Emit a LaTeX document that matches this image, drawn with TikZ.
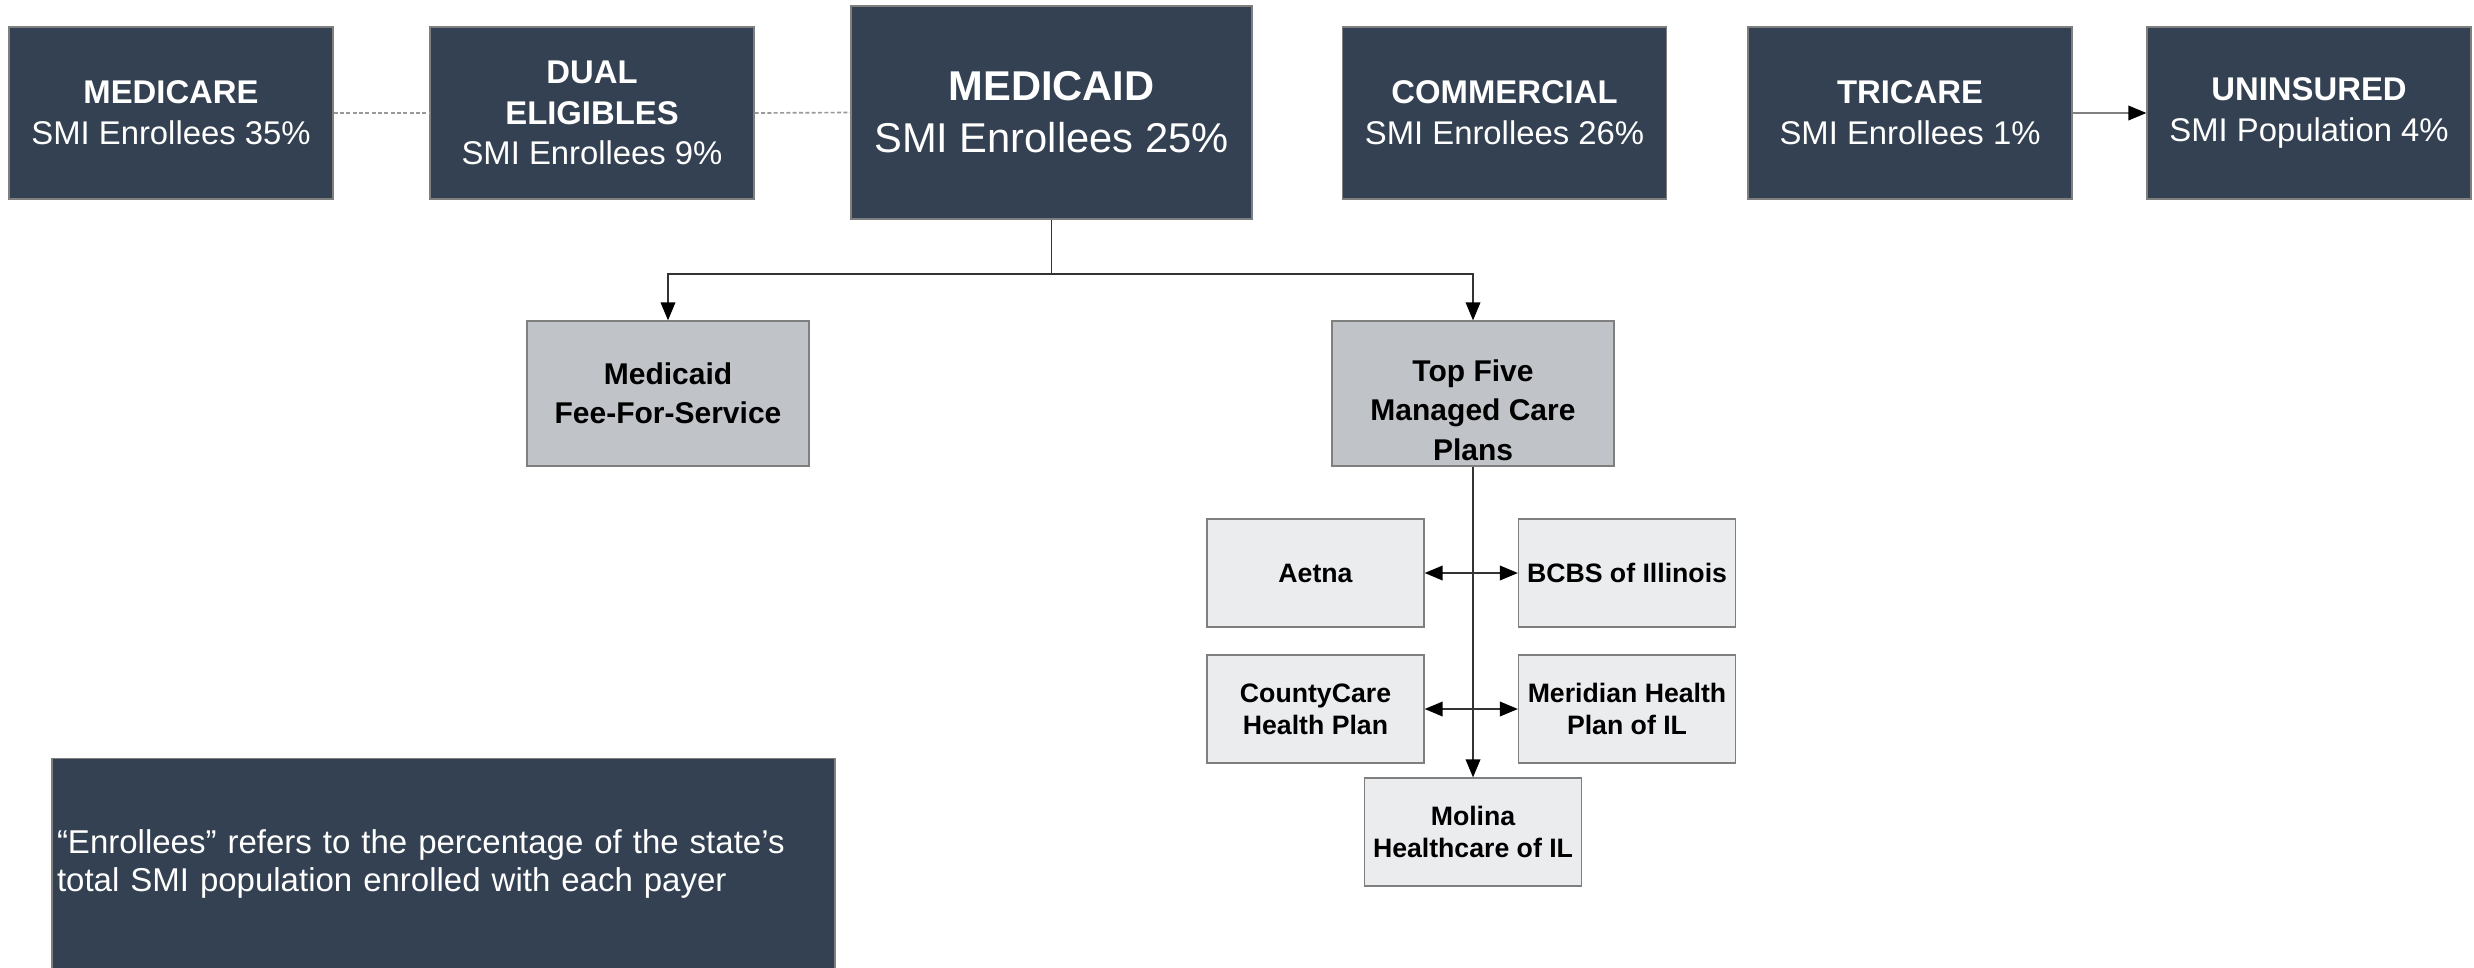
\documentclass[tikz,border=0pt]{standalone}
\usepackage{fontspec}
\setmainfont{Liberation Sans}
\usetikzlibrary{arrows.meta,positioning}
\definecolor{navy}{HTML}{334152}
\definecolor{midgray}{HTML}{C0C4C8}
\definecolor{lightgray}{HTML}{EBECEE}
\definecolor{edgegray}{HTML}{7F7F7F}
\tikzset{
  topbox/.style={draw=edgegray, line width=0.4pt, fill=navy, text=white, align=center,
    minimum width=97.2pt, minimum height=51.6pt, inner sep=0pt,
    font=\fontsize{9.85}{12.2}\selectfont},
  bigbox/.style={topbox, minimum width=120.3pt, minimum height=63.9pt,
    font=\fontsize{12.5}{15.6}\selectfont},
  graybox/.style={draw=edgegray, line width=0.4pt, fill=midgray, text=black, align=center,
    minimum width=84.6pt, minimum height=43.5pt, inner sep=0pt,
    font=\bfseries\fontsize{9}{11.85}\selectfont},
  smallbox/.style={draw=edgegray, line width=0.4pt, fill=lightgray, text=black, align=center,
    minimum width=65.1pt, minimum height=32.4pt, inner sep=0pt,
    font=\bfseries\fontsize{8}{9.5}\selectfont},
  notebox/.style={fill=navy, draw=edgegray, line width=0.4pt, text=white, align=left,
    text width=231.9pt, inner xsep=1.5pt, minimum height=63.3pt,
    font=\fontsize{9.9}{11.4}\selectfont},
  conn/.style={draw=black!80, line width=0.45pt},
  tip/.style={-{Triangle[length=5.4pt,width=4.4pt,color=black]}},
  dtip/.style={{Triangle[length=5.4pt,width=4.4pt,color=black]}-{Triangle[length=5.4pt,width=4.4pt,color=black]}},
  dashline/.style={draw=gray!80, line width=0.5pt, dash pattern=on 1.2pt off 0.7pt},
}
\begin{document}
\begin{tikzpicture}[x=0.3pt, y=-0.3pt]
\useasboundingbox (0,0) rectangle (2474,967);

% top row
\node[topbox] (medicare) at (171,113) {{\bfseries MEDICARE}\\SMI Enrollees 35\%};
\node[topbox] (dual) at (592,113) {{\bfseries DUAL}\\{\bfseries ELIGIBLES}\\SMI Enrollees 9\%};
\node[bigbox] (medicaid) at (1051.5,112.5) {{\bfseries MEDICAID}\\SMI Enrollees 25\%};
\node[topbox] (commercial) at (1504.5,113) {{\bfseries COMMERCIAL}\\SMI Enrollees 26\%};
\node[topbox] (tricare) at (1910,113) {{\bfseries TRICARE}\\SMI Enrollees 1\%};
\node[topbox] (uninsured) at (2309,113) {{\bfseries UNINSURED}\\SMI Population 4\%};

% second row
\node[graybox] (ffs) at (668,393.5) {Medicaid\\Fee-For-Service};
\node[graybox] (top5) at (1473,393.5) {};
\node[graybox, draw=none, fill=none] (top5text) at (1473,410) {Top Five\\Managed Care\\Plans};

% plans
\node[smallbox] (aetna) at (1315.5,573) {Aetna};
\node[smallbox] (bcbs) at (1627,573) {BCBS of Illinois};
\node[smallbox] (county) at (1315.5,709) {CountyCare\\Health Plan};
\node[smallbox] (meridian) at (1627,709) {Meridian Health\\Plan of IL};
\node[smallbox] (molina) at (1473,832) {Molina\\Healthcare of IL};

% note
\node[notebox] (note) at (443.5,864) {“Enrollees” refers to the percentage of the state’s\\total SMI population enrolled with each payer};

% connectors
\draw[dashline] (medicare.east) -- (dual.west);
\draw[dashline] (dual.east) -- (medicaid.west);
\draw[conn, draw=gray, tip] (tricare.east) -- (uninsured.west);

\coordinate (branch) at (1051.5,274);
\draw[conn] (medicaid.south) -- (branch);
\draw[conn, tip] (branch) -| (ffs.north);
\draw[conn, tip] (branch) -| (top5.north);

\draw[conn, tip] (top5.south) -- (molina.north);
\draw[conn, dtip] (aetna.east) -- (bcbs.west);
\draw[conn, dtip] (county.east) -- (meridian.west);
\end{tikzpicture}
\end{document}
